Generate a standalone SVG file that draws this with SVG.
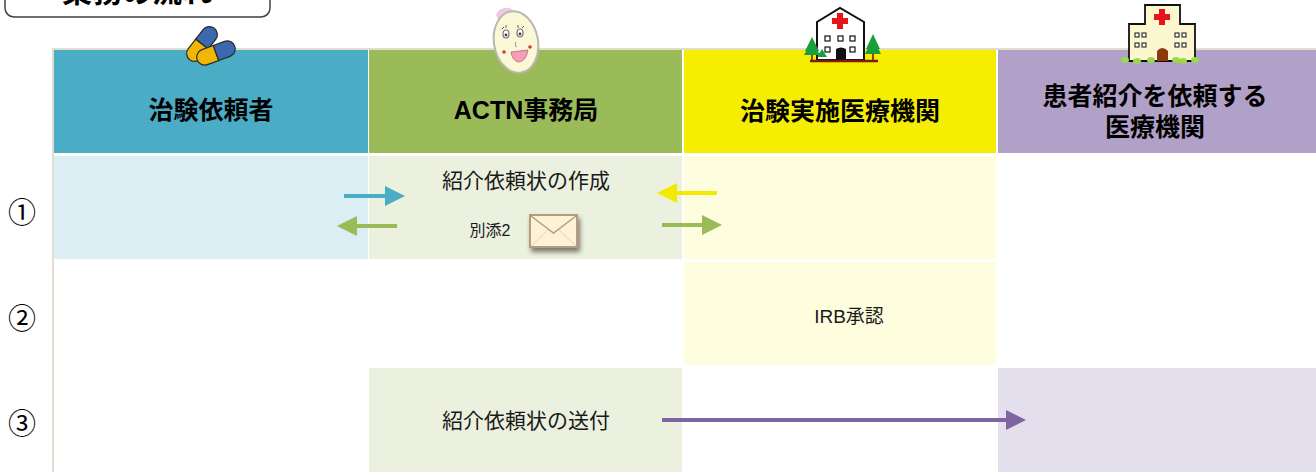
<svg xmlns="http://www.w3.org/2000/svg" width="1316" height="472" viewBox="0 0 1316 472">
  <defs>
    <style>
      .hd { font-family: "Liberation Sans", "Noto Sans CJK JP", sans-serif; font-weight: bold; font-size: 25px; fill: #000; text-anchor: middle; }
      .tx { font-family: "Liberation Sans", "Noto Sans CJK JP", sans-serif; font-size: 21px; fill: #1a1a1a; text-anchor: middle; }
      .sm { font-family: "Liberation Sans", "Noto Sans CJK JP", sans-serif; font-size: 16px; fill: #1a1a1a; text-anchor: middle; }
      .num { font-family: "Noto Sans CJK JP", "DejaVu Sans", sans-serif; font-size: 28px; fill: #000; text-anchor: middle; }
      .ar { fill: none; stroke-width: 4; }
    </style>
    <marker id="hBlue" markerWidth="5" markerHeight="5" refX="1" refY="2.5" orient="auto" markerUnits="strokeWidth">
      <path d="M0,0 L5,2.5 L0,5 z" fill="#4bacc6"/>
    </marker>
    <marker id="hGreen" markerWidth="5" markerHeight="5" refX="1" refY="2.5" orient="auto" markerUnits="strokeWidth">
      <path d="M0,0 L5,2.5 L0,5 z" fill="#9bbb59"/>
    </marker>
    <marker id="hYellow" markerWidth="5" markerHeight="5" refX="1" refY="2.5" orient="auto" markerUnits="strokeWidth">
      <path d="M0,0 L5,2.5 L0,5 z" fill="#f2ea00"/>
    </marker>
    <marker id="hPurple" markerWidth="5" markerHeight="5" refX="1" refY="2.5" orient="auto" markerUnits="strokeWidth">
      <path d="M0,0 L5,2.5 L0,5 z" fill="#8064a2"/>
    </marker>
    <filter id="shadow" x="-30%" y="-30%" width="170%" height="180%">
      <feGaussianBlur in="SourceAlpha" stdDeviation="2.5"/>
      <feOffset dx="2" dy="4" result="b"/>
      <feComponentTransfer><feFuncA type="linear" slope="0.5"/></feComponentTransfer>
      <feMerge><feMergeNode/><feMergeNode in="SourceGraphic"/></feMerge>
    </filter>
  </defs>

  <rect width="1316" height="472" fill="#ffffff"/>

  <!-- title tab at the top -->
  <g id="title">
    <rect x="5" y="-20" width="265" height="37" rx="9" fill="#ffffff" stroke="#404040" stroke-width="1.5"/>
    <text x="137" y="2" font-family="Noto Sans CJK JP, sans-serif" font-weight="bold" font-size="30" text-anchor="middle">業務の流れ</text>
  </g>

  <!-- table frame -->
  <rect x="52" y="48" width="1264" height="424" fill="#e2dece"/>
  <rect x="54" y="50" width="1262" height="422" fill="#ffffff"/>

  <!-- header row -->
  <g id="header">
    <rect x="54" y="50" width="314" height="103" fill="#4bacc6"/>
    <rect x="369" y="50" width="313" height="103" fill="#9bbb59"/>
    <rect x="684" y="50" width="312" height="103" fill="#f5ee00"/>
    <rect x="998" y="50" width="318" height="103" fill="#b1a0c7"/>
    <text class="hd" x="211" y="119">治験依頼者</text>
    <text class="hd" x="526" y="119">ACTN事務局</text>
    <text class="hd" x="840" y="120">治験実施医療機関</text>
    <text class="hd" x="1155" y="105">患者紹介を依頼する</text>
    <text class="hd" x="1155" y="136">医療機関</text>
  </g>

  <!-- body cells -->
  <g id="cells">
    <rect x="54" y="156" width="314" height="103" fill="#daeef3"/>
    <rect x="369" y="156" width="313" height="103" fill="#ebf1de"/>
    <rect x="684" y="156" width="312" height="103" fill="#fefede"/>
    <rect x="998" y="156" width="318" height="103" fill="#ffffff"/>
    <rect x="54" y="262" width="314" height="103" fill="#ffffff"/>
    <rect x="369" y="262" width="313" height="103" fill="#ffffff"/>
    <rect x="684" y="262" width="312" height="103" fill="#fefede"/>
    <rect x="998" y="262" width="318" height="103" fill="#ffffff"/>
    <rect x="54" y="368" width="314" height="104" fill="#ffffff"/>
    <rect x="369" y="368" width="313" height="104" fill="#ebf1de"/>
    <rect x="684" y="368" width="312" height="104" fill="#ffffff"/>
    <rect x="998" y="368" width="318" height="104" fill="#e4dfec"/>
  </g>

  <!-- step numbers -->
  <g id="steps">
    <text class="num" x="22" y="223">①</text>
    <text class="num" x="22" y="329">②</text>
    <text class="num" x="22" y="434">③</text>
  </g>

  <!-- step texts -->
  <g id="step1">
    <text class="tx" x="526" y="188">紹介依頼状の作成</text>
    <text class="sm" x="490" y="236">別添2</text>
    <g id="envelope" filter="url(#shadow)">
      <rect x="530" y="215" width="47" height="32" fill="#fdf2d6" stroke="#b59c7e" stroke-width="2"/>
      <path d="M531,216 L553.5,233 L576,216" fill="none" stroke="#b59c7e" stroke-width="1.5"/>
      <path d="M531,246 L548,230 M576,246 L559,230" fill="none" stroke="#e6d4b4" stroke-width="1"/>
    </g>
  </g>
  <g id="step2">
    <text class="sm" x="849" y="323" style="font-size:19px">IRB承認</text>
  </g>
  <g id="step3">
    <text class="tx" x="526" y="428">紹介依頼状の送付</text>
  </g>

  <!-- connectors -->
  <g id="connectors">
    <path class="ar" d="M344,196 L389,196" stroke="#4bacc6" marker-end="url(#hBlue)"/>
    <path class="ar" d="M397,226 L353,226" stroke="#9bbb59" marker-end="url(#hGreen)"/>
    <path class="ar" d="M717,193 L673,193" stroke="#f2ea00" marker-end="url(#hYellow)"/>
    <path class="ar" d="M662,225 L706,225" stroke="#9bbb59" marker-end="url(#hGreen)"/>
    <path class="ar" d="M662,420 L1010,420" stroke="#8064a2" marker-end="url(#hPurple)"/>
  </g>

  <!-- pills icon -->
  <g id="icon-pills" stroke="#2a2a2a" stroke-width="1.2">
    <g transform="translate(202,44) rotate(-52)">
      <path d="M0,-8 L-12,-8 A8,8 0 0 0 -12,8 L0,8 z" fill="#f2b705"/>
      <path d="M0,-8 L12,-8 A8,8 0 0 1 12,8 L0,8 z" fill="#3c68b0"/>
    </g>
    <g transform="translate(216,53) rotate(-20)">
      <path d="M0,-8 L-12,-8 A8,8 0 0 0 -12,8 L0,8 z" fill="#f2b705"/>
      <path d="M0,-8 L12,-8 A8,8 0 0 1 12,8 L0,8 z" fill="#3c68b0"/>
    </g>
  </g>

  <!-- mascot face icon -->
  <g id="icon-face">
    <ellipse cx="505" cy="14" rx="9" ry="6" fill="#f2c8e8" transform="rotate(-15 505 14)"/>
    <ellipse cx="516" cy="42" rx="22" ry="31" fill="#fbf8d8" stroke="#b8b8b0" stroke-width="2" transform="rotate(-10 516 42)"/>
    <ellipse cx="506" cy="34" rx="3" ry="4" fill="#ffffff" stroke="#707070" stroke-width="1.2"/>
    <ellipse cx="520" cy="33" rx="3" ry="4" fill="#ffffff" stroke="#707070" stroke-width="1.2"/>
    <circle cx="506" cy="35" r="1.4" fill="#404040"/>
    <circle cx="520" cy="34" r="1.4" fill="#404040"/>
    <path d="M502,29 l2,-2 M506,28 l0,-3 M518,28 l0,-3 M522,28 l2,-2" stroke="#606060" stroke-width="1"/>
    <path d="M516,42 q-2,4 1,5" fill="none" stroke="#909090" stroke-width="1"/>
    <circle cx="504" cy="52" r="1.8" fill="#d04020"/>
    <circle cx="530" cy="47" r="1.8" fill="#d04020"/>
    <path d="M511,52 L528,50 Q526,62 518,62 Q512,60 511,52 z" fill="#f4a0b4" stroke="#c06080" stroke-width="0.8"/>
  </g>

  <!-- trial-site hospital icon -->
  <g id="icon-hospital1">
    <path d="M817,60 L817,22 L840,8 L864,22 L864,60 z" fill="#ffffff" stroke="#111" stroke-width="2"/>
    <path d="M837,13 h6 v5 h5 v6 h-5 v5 h-6 v-5 h-5 v-6 h5 z" fill="#e8141c"/>
    <g fill="#ffffff" stroke="#111" stroke-width="1.2">
      <rect x="825" y="36" width="5" height="5"/>
      <rect x="838" y="36" width="5" height="5"/>
      <rect x="850" y="36" width="5" height="5"/>
      <rect x="825" y="47" width="5" height="5"/>
      <rect x="850" y="47" width="5" height="5"/>
    </g>
    <path d="M836,60 v-11 q5,-3 10,0 v11 z" fill="#111"/>
    <path d="M812,37 L805,51 L819,51 z" fill="#1a9e3c"/>
    <path d="M812,40 L804,55 L820,55 z" fill="#1a9e3c"/>
    <path d="M822,49 L817,57 L827,57 z" fill="#1a9e3c"/>
    <path d="M873,34 L866,49 L880,49 z" fill="#1a9e3c"/>
    <path d="M873,38 L865,54 L881,54 z" fill="#1a9e3c"/>
    <path d="M812,55 v6 M873,54 v7" stroke="#6a1a10" stroke-width="1.5"/>
    <path d="M810,61 L878,61" stroke="#7a1a10" stroke-width="2.5"/>
  </g>

  <!-- referring hospital icon -->
  <g id="icon-hospital2">
    <path d="M1129,61 L1129,24 L1145,24 L1145,5 L1180,5 L1180,24 L1195,24 L1195,61 z" fill="#fdf7d0" stroke="#111" stroke-width="1.8"/>
    <path d="M1159,9 h6 v5 h5 v6 h-5 v5 h-6 v-5 h-5 v-6 h5 z" fill="#e8141c"/>
    <g fill="#ffffff" stroke="#111" stroke-width="1">
      <rect x="1135" y="33" width="4" height="4"/>
      <rect x="1142" y="33" width="4" height="4"/>
      <rect x="1175" y="33" width="4" height="4"/>
      <rect x="1182" y="33" width="4" height="4"/>
      <rect x="1135" y="43" width="4" height="4"/>
      <rect x="1142" y="43" width="4" height="4"/>
      <rect x="1175" y="43" width="4" height="4"/>
      <rect x="1182" y="43" width="4" height="4"/>
    </g>
    <path d="M1157,61 v-10 q5,-6 11,0 v10 z" fill="#8b3a0e"/>
    <g fill="#9bd84a">
      <ellipse cx="1125" cy="60" rx="4" ry="3"/>
      <ellipse cx="1137" cy="61" rx="4" ry="3"/>
      <ellipse cx="1151" cy="60" rx="4" ry="3"/>
      <ellipse cx="1176" cy="60" rx="4" ry="3"/>
      <ellipse cx="1183" cy="61" rx="4" ry="3"/>
      <ellipse cx="1195" cy="60" rx="4" ry="3"/>
    </g>
  </g>
</svg>
